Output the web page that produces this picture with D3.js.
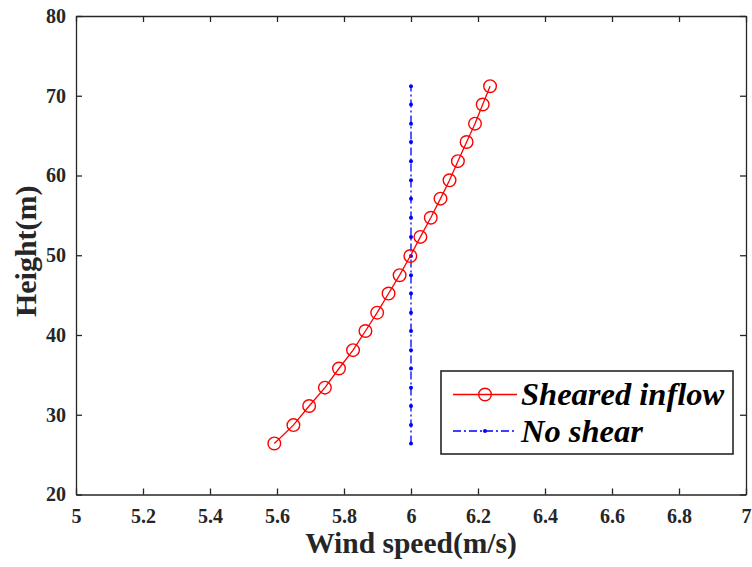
<!DOCTYPE html>
<html>
<head>
<meta charset="utf-8">
<script src="https://cdn.jsdelivr.net/npm/d3@7"></script>
<style>
  html, body { margin: 0; padding: 0; background: #fff; }
  svg { display: block; font-family: "Liberation Serif", "Times New Roman", serif; }
</style>
</head>
<body>
<svg id="chart" width="752" height="567"></svg>
<script>
// ---- data ----
const heights = [26.4, 28.7, 31.1, 33.4, 35.8, 38.1, 40.5, 42.8, 45.2, 47.5,
                 49.9, 52.3, 54.7, 57.1, 59.4, 61.8, 64.2, 66.5, 68.9, 71.2];
const shearedSpeed = [5.592, 5.649, 5.696, 5.743, 5.785, 5.827, 5.864, 5.899, 5.933, 5.966,
                      5.998, 6.028, 6.059, 6.088, 6.115, 6.140, 6.166, 6.191, 6.214, 6.236];
const noShearSpeed = [6, 6, 6, 6, 6, 6, 6, 6, 6, 6, 6, 6, 6, 6, 6, 6, 6, 6, 6, 6];
const xTicks = [5, 5.2, 5.4, 5.6, 5.8, 6, 6.2, 6.4, 6.6, 6.8, 7];
const yTicks = [20, 30, 40, 50, 60, 70, 80];
const seriesNames = ["Sheared inflow", "No shear"];

// ---- layout ----
const mLeft = 76, mRight = 746, mTop = 16, mBottom = 494.5;
const axisColor = "#262626";
const svg = d3.select("#chart");

const x = d3.scaleLinear().domain([5, 7]).range([mLeft, mRight]);
const y = d3.scaleLinear().domain([20, 80]).range([mBottom, mTop]);

// axes
const tickFmt = d => d3.format("")(d);
const xAxis = d3.axisBottom(x).tickValues(xTicks).tickSizeInner(-6).tickSizeOuter(0).tickPadding(14).tickFormat(tickFmt);
const yAxis = d3.axisLeft(y).tickValues(yTicks).tickSizeInner(-6).tickSizeOuter(0).tickPadding(10).tickFormat(tickFmt);
const xTop = d3.axisTop(x).tickValues(xTicks).tickSizeInner(-6).tickSizeOuter(0).tickFormat("");
const yRight = d3.axisRight(y).tickValues(yTicks).tickSizeInner(-6).tickSizeOuter(0).tickFormat("");

function styleAxis(g) {
  g.selectAll("path").attr("stroke", axisColor).attr("stroke-width", 1.3);
  g.selectAll("line").attr("stroke", axisColor).attr("stroke-width", 1.3);
  g.selectAll("text").attr("fill", axisColor)
    .style("font-family", '"Liberation Serif", "Times New Roman", serif')
    .style("font-size", "20px").style("font-weight", "bold");
}

svg.append("g").attr("transform", `translate(0,${mBottom})`).call(xAxis).call(styleAxis);
svg.append("g").attr("transform", `translate(${mLeft},0)`).call(yAxis).call(styleAxis);
svg.append("g").attr("transform", `translate(0,${mTop})`).call(xTop).call(styleAxis);
svg.append("g").attr("transform", `translate(${mRight},0)`).call(yRight).call(styleAxis);

// axis labels
svg.append("text")
  .attr("x", (mLeft + mRight) / 2).attr("y", 553)
  .attr("text-anchor", "middle")
  .attr("fill", axisColor)
  .style("font-size", "29.5px").style("font-weight", "bold")
  .text("Wind speed(m/s)");
svg.append("text")
  .attr("transform", `translate(36,${(mTop + mBottom) / 2 - 4}) rotate(-90)`)
  .attr("text-anchor", "middle")
  .attr("fill", axisColor)
  .style("font-size", "30px").style("font-weight", "bold")
  .text("Height(m)");

// series
const sheared = heights.map((h, i) => ({ v: shearedSpeed[i], h }));
const noShear = heights.map((h, i) => ({ v: noShearSpeed[i], h }));
const line = d3.line().x(d => x(d.v)).y(d => y(d.h));

svg.append("path").datum(noShear)
  .attr("d", line).attr("fill", "none")
  .attr("stroke", "#0000ff").attr("stroke-width", 1.3)
  .attr("stroke-dasharray", "8,3,2,3");
svg.append("g").selectAll("circle").data(noShear).join("circle")
  .attr("cx", d => x(d.v)).attr("cy", d => y(d.h)).attr("r", 2)
  .attr("fill", "#0000ff");

svg.append("path").datum(sheared)
  .attr("d", line).attr("fill", "none")
  .attr("stroke", "#ff0000").attr("stroke-width", 1.3);
svg.append("g").selectAll("circle").data(sheared).join("circle")
  .attr("cx", d => x(d.v)).attr("cy", d => y(d.h)).attr("r", 6.3)
  .attr("fill", "none").attr("stroke", "#ff0000").attr("stroke-width", 1.4);

// legend
const lg = svg.append("g");
lg.append("rect").attr("x", 441).attr("y", 371).attr("width", 292).attr("height", 83)
  .attr("fill", "#fff").attr("stroke", axisColor).attr("stroke-width", 1.6);
const rows = [394.5, 431];
lg.append("line").attr("x1", 453).attr("x2", 517).attr("y1", rows[0]).attr("y2", rows[0])
  .attr("stroke", "#ff0000").attr("stroke-width", 1.3);
lg.append("circle").attr("cx", 485).attr("cy", rows[0]).attr("r", 6.3)
  .attr("fill", "none").attr("stroke", "#ff0000").attr("stroke-width", 1.4);
lg.append("line").attr("x1", 453).attr("x2", 517).attr("y1", rows[1]).attr("y2", rows[1])
  .attr("stroke", "#0000ff").attr("stroke-width", 1.3).attr("stroke-dasharray", "8,3,2,3");
lg.append("circle").attr("cx", 485).attr("cy", rows[1]).attr("r", 2).attr("fill", "#0000ff");
seriesNames.forEach((n, i) => {
  lg.append("text").attr("x", 521).attr("y", rows[i] + 10.5)
    .attr("fill", "#000")
    .style("font-size", "32.5px").style("font-weight", "bold").style("font-style", "italic")
    .text(n);
});
</script>
</body>
</html>
